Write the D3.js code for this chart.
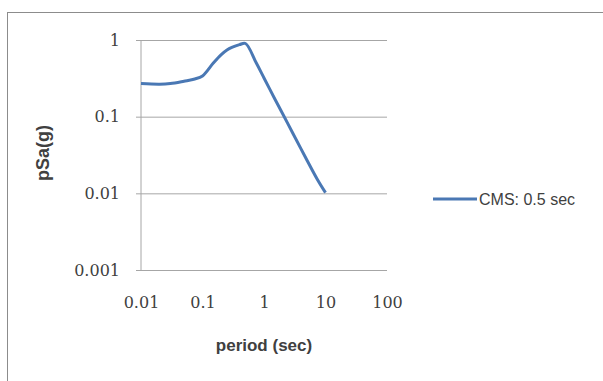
<!DOCTYPE html>
<html>
<head>
<meta charset="utf-8">
<script src="https://cdn.jsdelivr.net/npm/d3@7"></script>
<style>
  body { margin: 0; background: #fff; }
</style>
</head>
<body>
<div id="chart"></div>
<script>
// period (sec) and pSa (g)
const periods = [0.01, 0.02, 0.03, 0.05, 0.075, 0.1, 0.15, 0.2, 0.25, 0.3, 0.4, 0.5, 0.75, 1, 1.5, 2, 3, 4, 5, 7.5, 10];
const psa = [0.27, 0.265, 0.27, 0.29, 0.31, 0.34, 0.5, 0.64, 0.74, 0.8, 0.87, 0.9, 0.5, 0.32, 0.17, 0.11, 0.059, 0.038, 0.027, 0.0148, 0.0102];
const xTicks = [0.01, 0.1, 1, 10, 100];
const yTicks = [0.001, 0.01, 0.1, 1];
const seriesName = 'CMS: 0.5 sec';

const width = 603;
const height = 381;
const plot = { left: 141, right: 387, top: 40, bottom: 270 };

const svg = d3.select('#chart')
  .append('svg')
  .attr('width', width)
  .attr('height', height);

// chart frame
svg.append('rect')
  .attr('x', 7.5).attr('y', 12.5)
  .attr('width', 620).attr('height', 400)
  .attr('fill', '#fff')
  .attr('stroke', '#8c8c8c');

const x = d3.scaleLog().domain([0.01, 100]).range([plot.left, plot.right]);
const y = d3.scaleLog().domain([0.001, 1]).range([plot.bottom, plot.top]);

const tickFont = 'DejaVu Serif, serif';

// horizontal gridlines + y axis
const yAxis = svg.append('g')
  .attr('transform', `translate(${plot.left},0)`)
  .call(d3.axisLeft(y).tickValues(yTicks).tickFormat(d3.format('~g'))
    .tickSize(-(plot.right - plot.left)).tickPadding(21));
yAxis.select('.domain').remove();
yAxis.selectAll('line').attr('stroke', '#a6a6a6').attr('x1', -5);
yAxis.selectAll('text')
  .attr('fill', '#404040')
  .style('font-family', tickFont)
  .style('font-size', '16px');

svg.append('line')
  .attr('x1', plot.left).attr('x2', plot.left)
  .attr('y1', plot.top).attr('y2', plot.bottom)
  .attr('stroke', '#a6a6a6');

// x axis labels
const xAxis = svg.append('g')
  .attr('transform', `translate(0,${plot.bottom})`)
  .call(d3.axisBottom(x).tickValues(xTicks).tickFormat(d3.format('~g'))
    .tickSize(0).tickPadding(27));
xAxis.select('.domain').remove();
xAxis.selectAll('text')
  .attr('fill', '#404040')
  .style('font-family', tickFont)
  .style('font-size', '16px');

// series line
const line = d3.line()
  .x((d, i) => x(periods[i]))
  .y((d) => y(d))
  .curve(d3.curveCatmullRom.alpha(0.5));

svg.append('path')
  .datum(psa)
  .attr('d', line)
  .attr('fill', 'none')
  .attr('stroke', '#4a78b4')
  .attr('stroke-width', 3)
  .attr('stroke-linejoin', 'round');

// axis titles
svg.append('text')
  .attr('x', 264).attr('y', 351)
  .attr('text-anchor', 'middle')
  .attr('fill', '#404040')
  .style('font-family', '"Liberation Sans", sans-serif')
  .style('font-weight', 'bold')
  .style('font-size', '17px')
  .text('period (sec)');

svg.append('text')
  .attr('transform', 'translate(43,153) rotate(-90)')
  .attr('text-anchor', 'middle')
  .attr('dy', '0.35em')
  .attr('fill', '#404040')
  .style('font-family', '"Liberation Sans", sans-serif')
  .style('font-weight', 'bold')
  .style('font-size', '18px')
  .text('pSa(g)');

// legend
const legend = svg.append('g').attr('transform', 'translate(433,199)');
legend.append('line')
  .attr('x1', 0).attr('x2', 44)
  .attr('stroke', '#4a78b4')
  .attr('stroke-width', 3);
legend.append('text')
  .attr('x', 46).attr('dy', '0.35em')
  .attr('fill', '#404040')
  .style('font-family', '"Liberation Sans", sans-serif')
  .style('font-size', '16px')
  .text(seriesName);
</script>
</body>
</html>
